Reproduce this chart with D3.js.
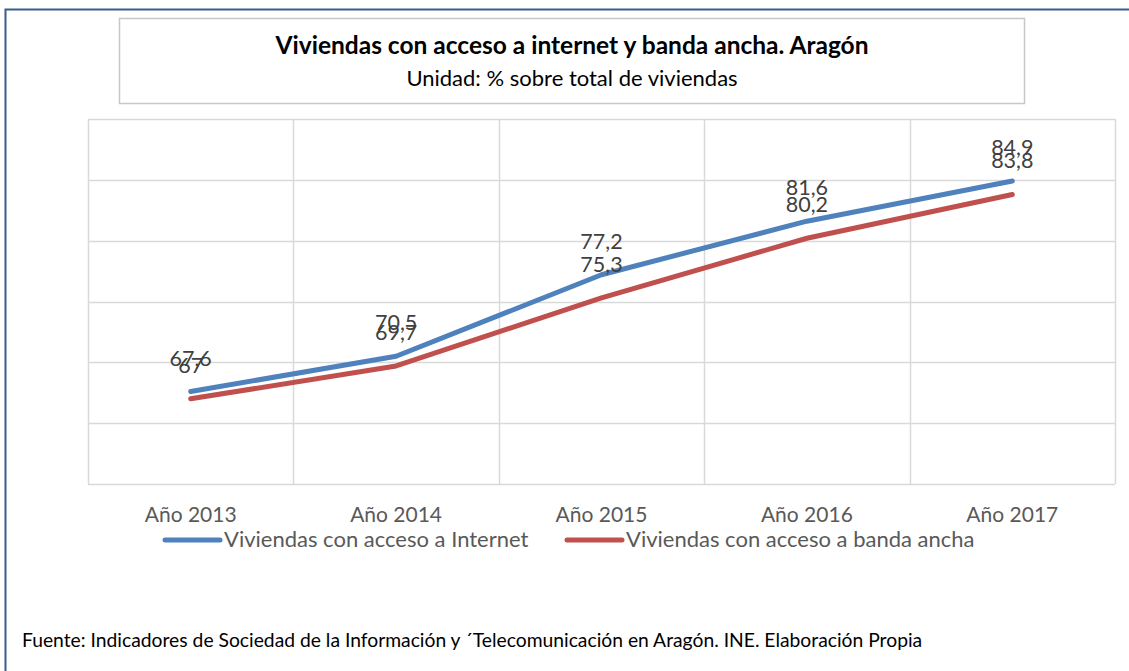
<!DOCTYPE html>
<html>
<head>
<meta charset="utf-8">
<script src="https://cdn.jsdelivr.net/npm/d3@7"></script>
<style>
  body { margin: 0; background: #fff; }
  svg { display: block; font-family: Lato, "Open Sans", sans-serif; }
</style>
</head>
<body>
<div id="main"></div>
<script>
/// data ///
var years = ['Año 2013', 'Año 2014', 'Año 2015', 'Año 2016', 'Año 2017'];
var internet = [67.6, 70.5, 77.2, 81.6, 84.9];
var banda = [67, 69.7, 75.3, 80.2, 83.8];
var seriesNames = ['Viviendas con acceso a Internet', 'Viviendas con acceso a banda ancha'];
var gridTicks = [60, 65, 70, 75, 80, 85, 90];

const w = 1129, h = 671;
const colors = ['#4f81bd', '#c0504d'];

const svg = d3.select('#main')
    .append('svg')
    .attr('width', w)
    .attr('height', h);

// outer frame (left + top only visible)
svg.append('path')
    .attr('d', 'M5.5,' + h + ' V9.5 H' + w)
    .attr('fill', 'none')
    .attr('stroke', '#385d8a')
    .attr('stroke-width', 2);

// title box
svg.append('rect')
    .attr('x', 119.5).attr('y', 18.5)
    .attr('width', 905).attr('height', 85)
    .attr('fill', '#fff')
    .attr('stroke', '#c8c8c8')
    .attr('stroke-width', 1.5);

svg.append('text')
    .attr('x', 572).attr('y', 54)
    .attr('text-anchor', 'middle')
    .style('font-size', '24.5px')
    .style('font-weight', 'bold')
    .style('fill', '#000')
    .text('Viviendas con acceso a internet y banda ancha. Aragón');

svg.append('text')
    .attr('x', 572).attr('y', 86)
    .attr('text-anchor', 'middle')
    .style('font-size', '22px')
    .style('fill', '#000')
    .text('Unidad: % sobre total de viviendas');

/// scales ///
const plot = { left: 88, right: 1115, top: 119, bottom: 484 };

const x = d3.scaleBand()
    .domain(years)
    .range([plot.left, plot.right]);

const y = d3.scaleLinear()
    .domain([60, 90])
    .range([plot.bottom, plot.top]);

// gridlines
svg.append('g')
    .selectAll('line')
    .data(gridTicks)
    .enter()
    .append('line')
    .attr('x1', plot.left).attr('x2', plot.right)
    .attr('y1', d => Math.round(y(d)) + 0.5)
    .attr('y2', d => Math.round(y(d)) + 0.5)
    .attr('stroke', '#d9d9d9')
    .attr('stroke-width', 1.5);

var vEdges = years.map(d => x(d)).concat([plot.right]);
svg.append('g')
    .selectAll('line')
    .data(vEdges)
    .enter()
    .append('line')
    .attr('x1', d => Math.round(d) + 0.5).attr('x2', d => Math.round(d) + 0.5)
    .attr('y1', plot.top).attr('y2', plot.bottom)
    .attr('stroke', '#d9d9d9')
    .attr('stroke-width', 1.5);

// category labels
svg.append('g')
    .selectAll('text')
    .data(years)
    .enter()
    .append('text')
    .attr('x', d => x(d) + x.bandwidth() / 2)
    .attr('y', 522)
    .attr('text-anchor', 'middle')
    .style('font-size', '21px')
    .style('fill', '#595959')
    .text(d => d);

/// lines ///
var allSeries = [internet, banda];
const line = d3.line()
    .x((d, i) => x(years[i]) + x.bandwidth() / 2)
    .y(d => y(d));

allSeries.forEach(function (vals, s) {
    svg.append('path')
        .datum(vals)
        .attr('d', line)
        .attr('fill', 'none')
        .attr('stroke', colors[s])
        .attr('stroke-width', 5)
        .attr('stroke-linecap', 'round')
        .attr('stroke-linejoin', 'round');
});

// data labels above each point
allSeries.forEach(function (vals, s) {
    svg.append('g')
        .selectAll('text')
        .data(vals)
        .enter()
        .append('text')
        .attr('x', (d, i) => x(years[i]) + x.bandwidth() / 2)
        .attr('y', d => y(d) - 26)
        .attr('text-anchor', 'middle')
        .style('font-size', '21.5px')
        .style('fill', '#404040')
        .text(d => String(d).replace('.', ','));
});

/// legend ///
var legendItems = [
    { name: seriesNames[0], x1: 165, color: colors[0] },
    { name: seriesNames[1], x1: 567, color: colors[1] }
];
var lg = svg.append('g')
    .selectAll('g')
    .data(legendItems)
    .enter()
    .append('g');

lg.append('line')
    .attr('x1', d => d.x1).attr('x2', d => d.x1 + 55)
    .attr('y1', 540).attr('y2', 540)
    .attr('stroke', d => d.color)
    .attr('stroke-width', 5)
    .attr('stroke-linecap', 'round');

lg.append('text')
    .attr('x', d => d.x1 + 59)
    .attr('y', 547)
    .style('font-size', '22px')
    .style('fill', '#595959')
    .text(d => d.name);

// source note
svg.append('text')
    .attr('x', 22).attr('y', 647)
    .style('font-size', '19.3px')
    .style('fill', '#000')
    .text('Fuente: Indicadores de Sociedad de la Información y ´Telecomunicación en Aragón. INE. Elaboración Propia');
</script>
</body>
</html>
